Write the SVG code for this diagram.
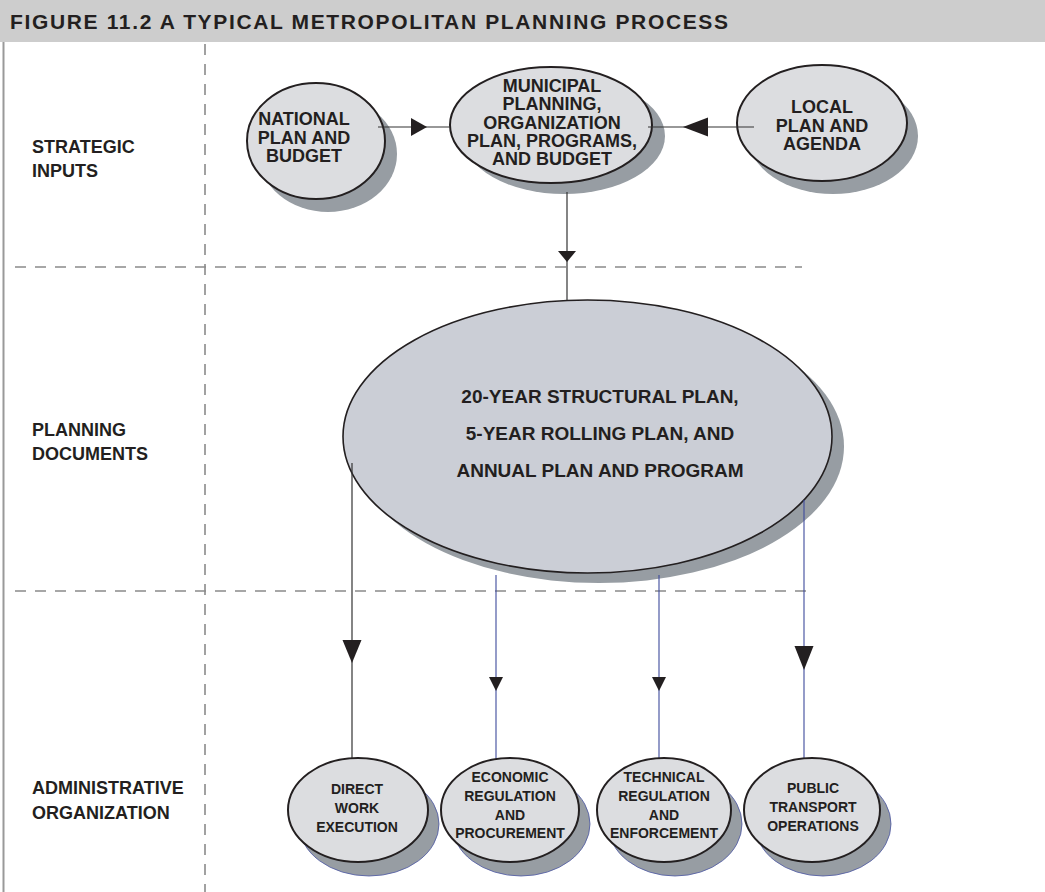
<svg xmlns="http://www.w3.org/2000/svg" width="1045" height="892" viewBox="0 0 1045 892">
<style>
.lbl{font-family:"Liberation Sans",Arial,sans-serif;font-weight:bold;fill:#231f20}
.side{font-size:18px}
.top{font-size:18px;text-anchor:middle}
.big{font-size:19px;text-anchor:middle}
.sm{font-size:14px;text-anchor:middle}
.shadow{fill:#979da3}
.shb{fill:#979da3;stroke:#4a55a2;stroke-width:0.8}
.node{fill:#dcdde0;stroke:#231f20;stroke-width:2}
.bignode{fill:#cbced6;stroke:#231f20;stroke-width:1.6}
.dash{stroke:#8a8a8a;stroke-width:1.6;stroke-dasharray:11 9;fill:none}
.blk{stroke:#333;stroke-width:1.2;fill:none}
.blue{stroke:#3d4a9c;stroke-width:1.1;fill:none}
.head{fill:#231f20}
</style>
<rect width="1045" height="892" fill="#ffffff"/>
<g id="header">
<rect x="0" y="0" width="1045" height="42" fill="#cdcdcd"/>
<text class="lbl" x="10" y="29" font-size="21" textLength="718" lengthAdjust="spacing">FIGURE 11.2  A TYPICAL METROPOLITAN PLANNING PROCESS</text>
</g>
<g id="grid">
<line x1="3.5" y1="42" x2="3.5" y2="892" stroke="#999" stroke-width="2"/>
<line class="dash" x1="205" y1="44" x2="205" y2="892"/>
<line class="dash" x1="15" y1="267" x2="802" y2="267"/>
<line class="dash" x1="15" y1="591" x2="806" y2="591"/>
</g>
<g id="row-labels">
<text class="lbl side" x="32"><tspan x="32" y="153">STRATEGIC</tspan><tspan x="32" y="177">INPUTS</tspan></text>
<text class="lbl side" x="32"><tspan x="32" y="436">PLANNING</tspan><tspan x="32" y="460">DOCUMENTS</tspan></text>
<text class="lbl side" x="32"><tspan x="32" y="794">ADMINISTRATIVE</tspan><tspan x="32" y="819">ORGANIZATION</tspan></text>
</g>
<g id="national">
<ellipse class="shadow" cx="328" cy="154" rx="69" ry="58"/>
<ellipse class="node" cx="316" cy="141" rx="69" ry="58"/>
<text class="lbl top"><tspan x="304" y="125">NATIONAL</tspan><tspan x="304" y="143.5">PLAN AND</tspan><tspan x="304" y="162">BUDGET</tspan></text>
</g>
<g id="municipal">
<ellipse class="shadow" cx="564" cy="136" rx="101" ry="58"/>
<ellipse class="node" cx="551" cy="125" rx="101" ry="58"/>
<text class="lbl top"><tspan x="552" y="92">MUNICIPAL</tspan><tspan x="552" y="110.3">PLANNING,</tspan><tspan x="552" y="128.6">ORGANIZATION</tspan><tspan x="552" y="146.9">PLAN, PROGRAMS,</tspan><tspan x="552" y="165.2">AND BUDGET</tspan></text>
</g>
<g id="local">
<ellipse class="shadow" cx="833" cy="136" rx="85" ry="58"/>
<ellipse class="node" cx="822" cy="123" rx="85" ry="58"/>
<text class="lbl top"><tspan x="822" y="113">LOCAL</tspan><tspan x="822" y="131.5">PLAN AND</tspan><tspan x="822" y="150">AGENDA</tspan></text>
</g>
<g id="planning-documents">
<ellipse class="shadow" cx="599" cy="446.5" rx="245" ry="136.5"/>
<ellipse class="bignode" cx="587.5" cy="436.5" rx="244.5" ry="136.5"/>
<text class="lbl big"><tspan x="600" y="403">20-YEAR STRUCTURAL PLAN,</tspan><tspan x="600" y="440">5-YEAR ROLLING PLAN, AND</tspan><tspan x="600" y="477">ANNUAL PLAN AND PROGRAM</tspan></text>
</g>
<g id="connectors">
<line class="blk" x1="378" y1="127" x2="450" y2="127"/>
<polygon class="head" points="427,127 411,118 411,136"/>
<line class="blk" x1="648" y1="127" x2="754" y2="127"/>
<polygon class="head" points="683,127 708,117.5 708,136.5"/>
<line class="blk" x1="567" y1="192" x2="567" y2="300"/>
<polygon class="head" points="567,262 558,251 576,251"/>
<line class="blk" x1="352" y1="463" x2="352" y2="758"/>
<polygon class="head" points="352,663 342.5,640 361.5,640"/>
<line class="blue" x1="496" y1="575" x2="496" y2="765"/>
<polygon class="head" points="496,691 489,677 503,677"/>
<line class="blue" x1="659" y1="575" x2="659" y2="765"/>
<polygon class="head" points="659,691 652,677 666,677"/>
<line class="blue" x1="804" y1="500" x2="804" y2="760"/>
<polygon class="head" points="804,670 794.5,646 813.5,646"/>
</g>
<g id="direct-work">
<ellipse class="shb" cx="369" cy="824" rx="70" ry="52"/>
<ellipse class="node" cx="358" cy="810" rx="70" ry="52"/>
<text class="lbl sm"><tspan x="357" y="794">DIRECT</tspan><tspan x="357" y="813">WORK</tspan><tspan x="357" y="832">EXECUTION</tspan></text>
</g>
<g id="economic-regulation">
<ellipse class="shb" cx="521" cy="824" rx="69" ry="52"/>
<ellipse class="node" cx="510" cy="810" rx="69" ry="52"/>
<text class="lbl sm"><tspan x="510" y="782">ECONOMIC</tspan><tspan x="510" y="801">REGULATION</tspan><tspan x="510" y="819.5">AND</tspan><tspan x="510" y="838">PROCUREMENT</tspan></text>
</g>
<g id="technical-regulation">
<ellipse class="shb" cx="675" cy="824" rx="67" ry="52"/>
<ellipse class="node" cx="664" cy="810" rx="67" ry="52"/>
<text class="lbl sm"><tspan x="664" y="782">TECHNICAL</tspan><tspan x="664" y="801">REGULATION</tspan><tspan x="664" y="819.5">AND</tspan><tspan x="664" y="838">ENFORCEMENT</tspan></text>
</g>
<g id="public-transport">
<ellipse class="shb" cx="823" cy="824" rx="68" ry="52"/>
<ellipse class="node" cx="812" cy="810" rx="68" ry="52"/>
<text class="lbl sm"><tspan x="813" y="793">PUBLIC</tspan><tspan x="813" y="812">TRANSPORT</tspan><tspan x="813" y="830.5">OPERATIONS</tspan></text>
</g>
</svg>
